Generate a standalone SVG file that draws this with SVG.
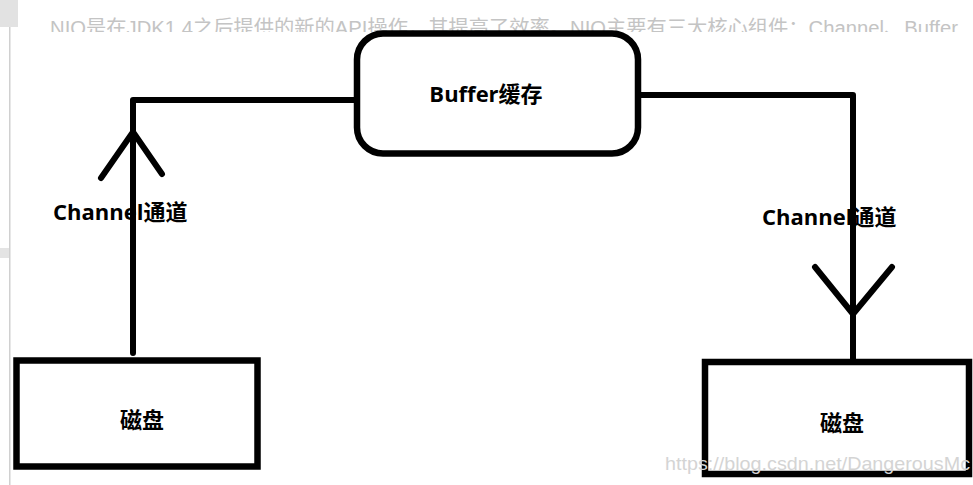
<svg xmlns="http://www.w3.org/2000/svg" width="973" height="485" viewBox="0 0 973 485">
<defs>
<style>
.ln{fill:none;stroke:#000;stroke-width:6;stroke-linecap:round;stroke-linejoin:round}
.box{fill:#fff;stroke:#000;stroke-width:6.5}
.lbl{font-family:"Open Sans","Noto Sans CJK SC",sans-serif;font-weight:bold;font-size:22px;fill:#000}
</style>
<clipPath id="topclip"><rect x="0" y="0" width="973" height="32"/></clipPath>
</defs>
<rect width="973" height="485" fill="#fff"/>
<g id="page">
<rect x="0" y="0" width="18" height="27" fill="#e2e2e2"/>
<rect x="9" y="27" width="1.5" height="458" fill="#d0d0d0"/>
<rect x="0" y="248" width="9" height="10" fill="#e4e4e4"/>
<text x="50" y="35" clip-path="url(#topclip)" textLength="908" lengthAdjust="spacingAndGlyphs" font-family="'Liberation Sans','Noto Sans CJK SC',sans-serif" font-size="20" fill="#c4c4c4">NIO是在JDK1.4之后提供的新的API操作，其提高了效率。NIO主要有三大核心组件：Channel、Buffer</text>
</g>
<g id="labels">
<text class="lbl" x="53" y="220">Channel通道</text>
<text class="lbl" x="762" y="225">Channel通道</text>
</g>
<g id="connectors">
<polyline class="ln" points="357,100 133,100 133,353"/>
<polyline class="ln" points="101,178 133,132 162,174"/>
<polyline class="ln" points="638,95 853,95 853,360"/>
<polyline class="ln" points="815,267 853,314 892,267"/>
</g>
<g id="buffer">
<rect class="box" x="357" y="33.5" width="281" height="120" rx="26" ry="26"/>
<text class="lbl" x="486" y="102" text-anchor="middle">Buffer缓存</text>
</g>
<g id="disk-left">
<rect class="box" x="16.5" y="360.5" width="241" height="106"/>
<text class="lbl" x="142" y="428" text-anchor="middle">磁盘</text>
</g>
<g id="disk-right">
<rect class="box" x="705" y="362" width="264" height="112"/>
<text class="lbl" x="842" y="431" text-anchor="middle">磁盘</text>
</g>
<text x="665" y="470" textLength="305" lengthAdjust="spacingAndGlyphs" font-family="'Liberation Sans',sans-serif" font-size="19" fill="#d4d4d4">https://blog.csdn.net/DangerousMc</text>
</svg>
